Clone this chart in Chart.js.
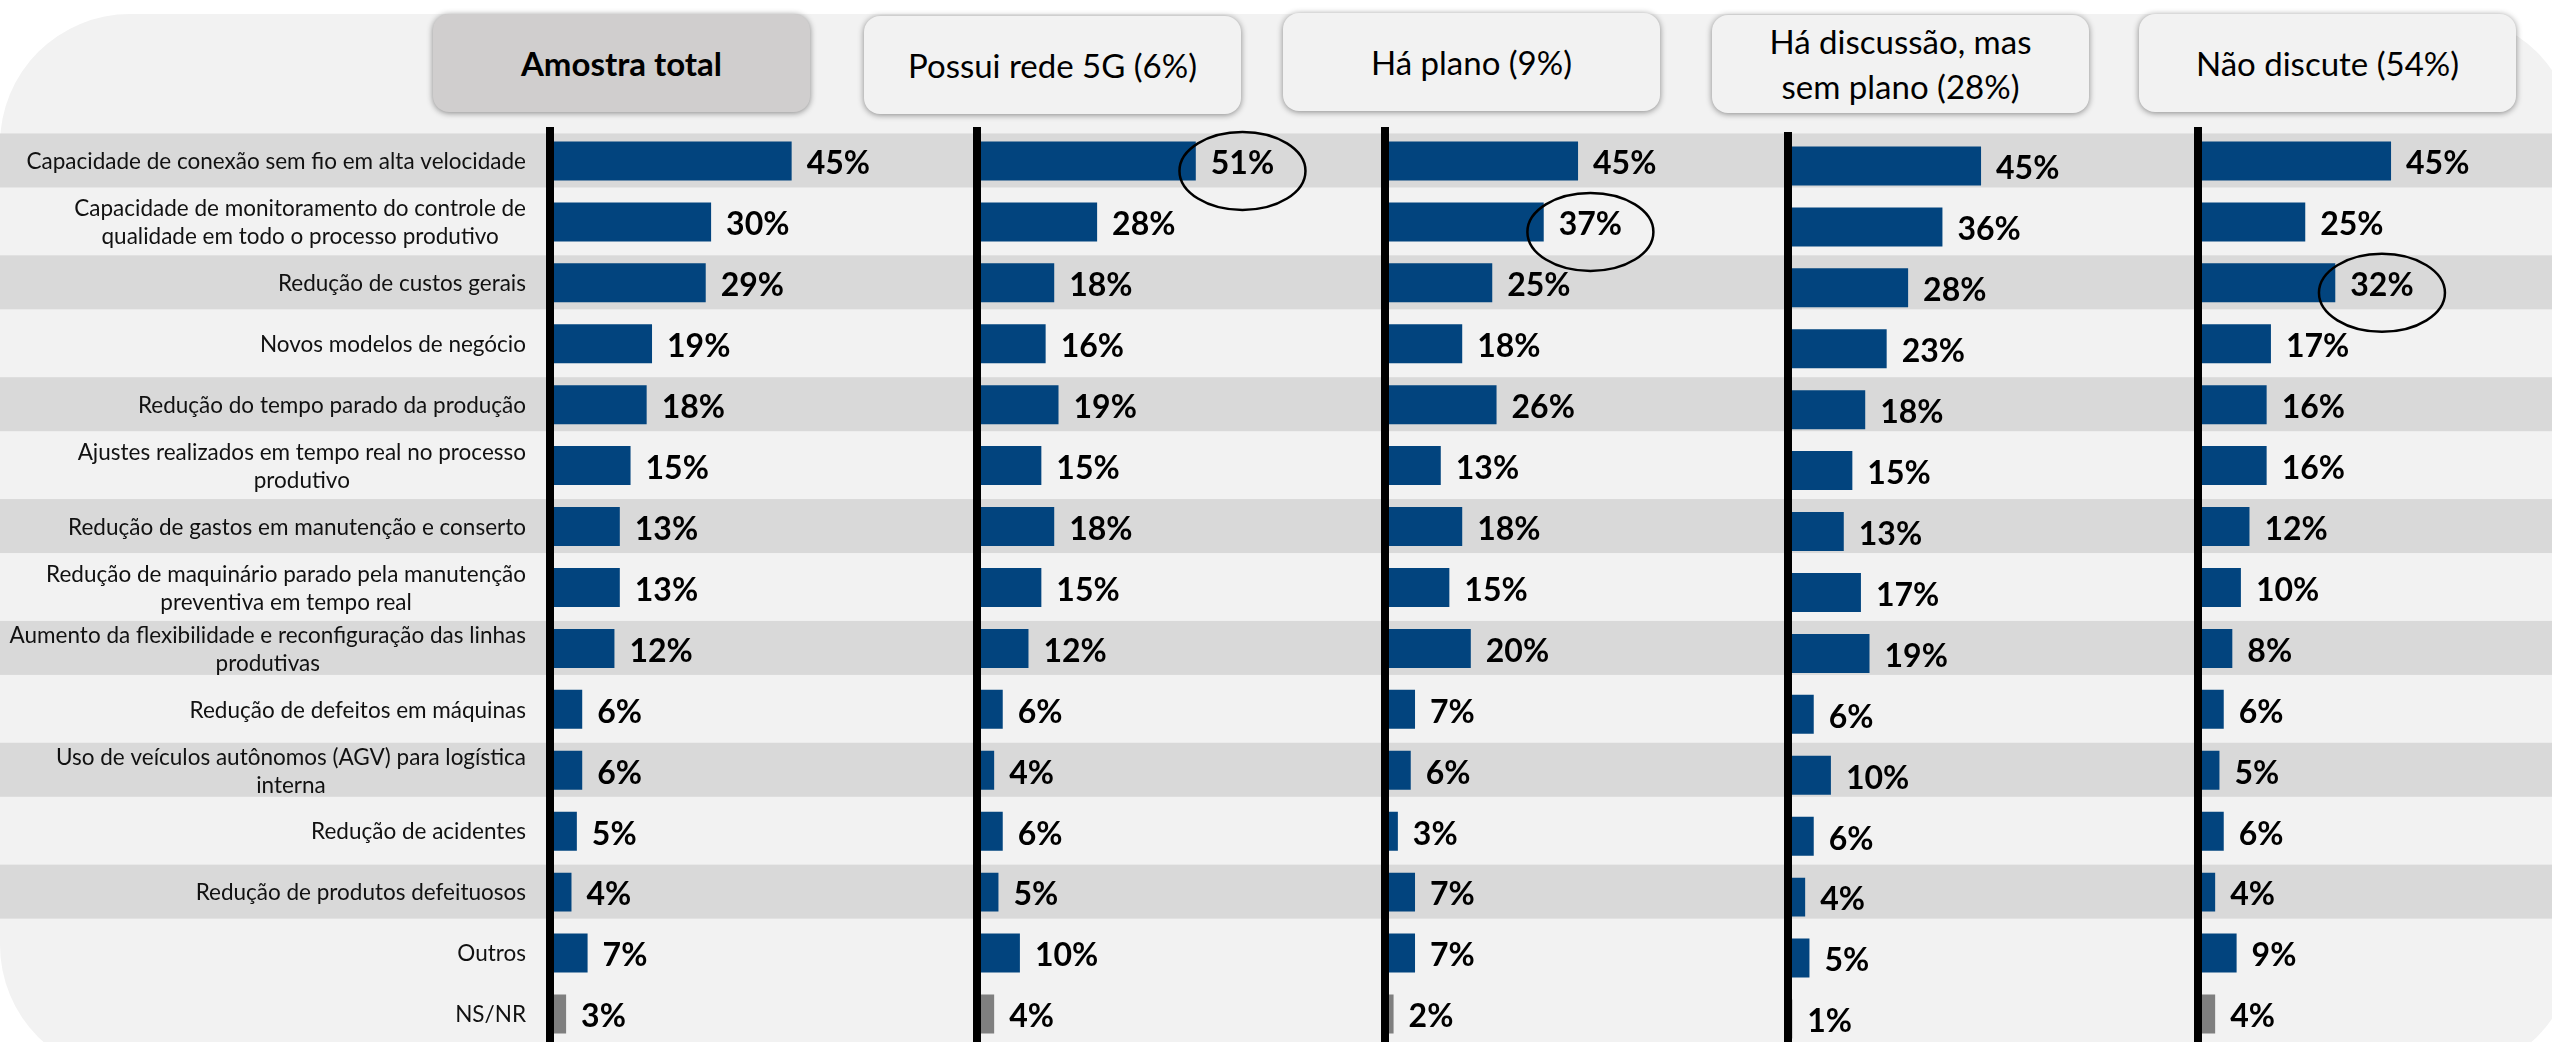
<!DOCTYPE html>
<html lang="pt-BR">
<head>
<meta charset="utf-8">
<title>Benefícios esperados do 5G</title>
<script src="https://cdn.jsdelivr.net/npm/chart.js@4.4.1/dist/chart.umd.min.js"></script>
<style>
  html, body { margin: 0; padding: 0; background: #fff; width: 2552px; height: 1042px; overflow: hidden; font-family: Lato, "Open Sans", sans-serif; }
  .backdrop { position: absolute; left: 0; top: 14px; width: 2575px; height: 1061px; border-radius: 130px; background: #f2f2f2; }
  .header { position: absolute; height: 98px; width: 377px; box-sizing: border-box; border-radius: 16px; background: #f2f2f2;
    box-shadow: 0 1px 6px rgba(0, 0, 0, 0.45); display: flex; align-items: center; justify-content: center;
    text-align: center; font-size: 33px; line-height: 45px; color: #000; }
  .header.total { background: #d0cece; font-weight: bold; }
  canvas { position: absolute; top: 0; }
</style>
</head>
<body>
<div class="backdrop"></div>
<div id="headers"></div>

<script>
const categories = [
  'Capacidade de conexão sem fio em alta velocidade',
  'Capacidade de monitoramento do controle de\nqualidade em todo o processo produtivo',
  'Redução de custos gerais',
  'Novos modelos de negócio',
  'Redução do tempo parado da produção',
  'Ajustes realizados em tempo real no processo\nprodutivo',
  'Redução de gastos em manutenção e conserto',
  'Redução de maquinário parado pela manutenção\npreventiva em tempo real',
  'Aumento da flexibilidade e reconfiguração das linhas\nprodutivas',
  'Redução de defeitos em máquinas',
  'Uso de veículos autônomos (AGV) para logística\ninterna',
  'Redução de acidentes',
  'Redução de produtos defeituosos',
  'Outros',
  'NS/NR',
];

const groups = [
  'Amostra total',
  'Possui rede 5G (6%)',
  'Há plano (9%)',
  'Há discussão, mas\nsem plano (28%)',
  'Não discute (54%)',
];

const amostraTotal = [45, 30, 29, 19, 18, 15, 13, 13, 12, 6, 6, 5, 4, 7, 3];
const possuiRede5G = [51, 28, 18, 16, 19, 15, 18, 15, 12, 6, 4, 6, 5, 10, 4];
const haPlano = [45, 37, 25, 18, 26, 13, 18, 15, 20, 7, 6, 3, 7, 7, 2];
const haDiscussao = [45, 36, 28, 23, 18, 15, 13, 17, 19, 6, 10, 6, 4, 5, 1];
const naoDiscute = [45, 25, 32, 17, 16, 16, 12, 10, 8, 6, 5, 6, 4, 9, 4];

// index of the circled value in each group (null = none)
const circled = [null, 0, 1, null, 2];

const seriesList = [amostraTotal, possuiRede5G, haPlano, haDiscussao, naoDiscute];

// layout: zero line x, pixels per percent point, chart area top, header box position
const layout = [
  { zero: 550, ppp: 5.37, top: 130.5, canvasLeft: 0, canvasWidth: 2552, box: [433, 14] },
  { zero: 977, ppp: 4.29, top: 130.5, canvasLeft: 877, canvasWidth: 470, box: [864, 16] },
  { zero: 1384.5, ppp: 4.29, top: 130.5, canvasLeft: 1284.5, canvasWidth: 470, box: [1283, 13] },
  { zero: 1788, ppp: 4.29, top: 135.5, canvasLeft: 1688, canvasWidth: 470, box: [1712, 15] },
  { zero: 2198, ppp: 4.29, top: 130.5, canvasLeft: 2098, canvasWidth: 454, box: [2139, 14] },
];

const X_MAX = 60;
const ROW = 60.93;
const CANVAS_H = 1060;
const BLUE = '#02447e';
const GREY = '#7f7f7f';

const headerBox = document.getElementById('headers');
groups.forEach((name, i) => {
  const div = document.createElement('div');
  div.className = 'header' + (i === 0 ? ' total' : '');
  div.style.left = layout[i].box[0] + 'px';
  div.style.top = layout[i].box[1] + 'px';
  div.innerHTML = name.replace('\n', '<br>');
  headerBox.appendChild(div);
});

const bandsPlugin = {
  id: 'bands',
  beforeDraw(chart) {
    const { ctx } = chart;
    const y = chart.scales.y;
    ctx.save();
    ctx.fillStyle = '#d9d9d9';
    for (let i = 0; i < categories.length - 1; i += 2) {
      const c = y.getPixelForValue(i);
      ctx.fillRect(0, c - 27.5, chart.width, 54);
    }
    ctx.restore();
  },
};

const categoryLabels = {
  id: 'categoryLabels',
  afterDraw(chart) {
    const { ctx, chartArea } = chart;
    const y = chart.scales.y;
    const right = chartArea.left - 24;
    ctx.save();
    ctx.font = '22.5px Lato, "Open Sans", sans-serif';
    ctx.fillStyle = '#111';
    ctx.textAlign = 'center';
    ctx.textBaseline = 'middle';
    categories.forEach((label, i) => {
      const lines = label.split('\n');
      const w = Math.max(...lines.map((l) => ctx.measureText(l).width));
      const c = y.getPixelForValue(i);
      lines.forEach((line, j) => {
        ctx.fillText(line, right - w / 2, c + (j - (lines.length - 1) / 2) * 28 + 1);
      });
    });
    ctx.restore();
  },
};

const valueLabels = {
  id: 'valueLabels',
  afterDatasetsDraw(chart, args, opts) {
    const { ctx } = chart;
    const meta = chart.getDatasetMeta(0);
    const values = chart.data.datasets[0].data;
    ctx.save();
    ctx.font = 'bold 32px Lato, "Open Sans", sans-serif';
    ctx.fillStyle = '#000';
    ctx.textAlign = 'left';
    ctx.textBaseline = 'middle';
    meta.data.forEach((bar, i) => {
      const text = values[i] + '%';
      const x = bar.x + 15;
      const yy = bar.y + 3;
      ctx.fillText(text, x, yy);
      if (opts.circled === i) {
        const w = ctx.measureText(text).width;
        ctx.beginPath();
        ctx.ellipse(x + w / 2, bar.y + 10, 63, 39, 0, 0, Math.PI * 2);
        ctx.lineWidth = 2.5;
        ctx.strokeStyle = '#000';
        ctx.stroke();
      }
    });
    ctx.restore();
  },
};

seriesList.forEach((values, idx) => {
  const L = layout[idx];
  const canvas = document.createElement('canvas');
  canvas.width = L.canvasWidth;
  canvas.height = CANVAS_H;
  canvas.style.left = L.canvasLeft + 'px';
  document.body.appendChild(canvas);

  const areaW = X_MAX * L.ppp;
  const areaH = ROW * categories.length;
  const padLeft = L.zero - L.canvasLeft;

  const plugins = [valueLabels];
  if (idx === 0) plugins.unshift(bandsPlugin, categoryLabels);

  new Chart(canvas.getContext('2d'), {
    type: 'bar',
    data: {
      labels: categories,
      datasets: [{
        data: values,
        backgroundColor: values.map((v, i) => (i === categories.length - 1 ? GREY : BLUE)),
        borderWidth: 0,
        barPercentage: 0.64,
        categoryPercentage: 1,
      }],
    },
    options: {
      indexAxis: 'y',
      responsive: false,
      animation: false,
      layout: {
        padding: {
          left: padLeft,
          right: L.canvasWidth - padLeft - areaW,
          top: L.top,
          bottom: CANVAS_H - L.top - areaH,
        },
      },
      plugins: {
        legend: { display: false },
        tooltip: { enabled: false },
        valueLabels: { circled: circled[idx] },
      },
      scales: {
        x: { display: false, min: 0, max: X_MAX },
        y: {
          grid: { display: false, drawTicks: false },
          ticks: { display: false },
          border: { display: true, color: '#000', width: 8, z: 1 },
          afterFit(scale) { scale.width = 0; },
        },
      },
    },
    plugins,
  });
});
</script>
</body>
</html>
